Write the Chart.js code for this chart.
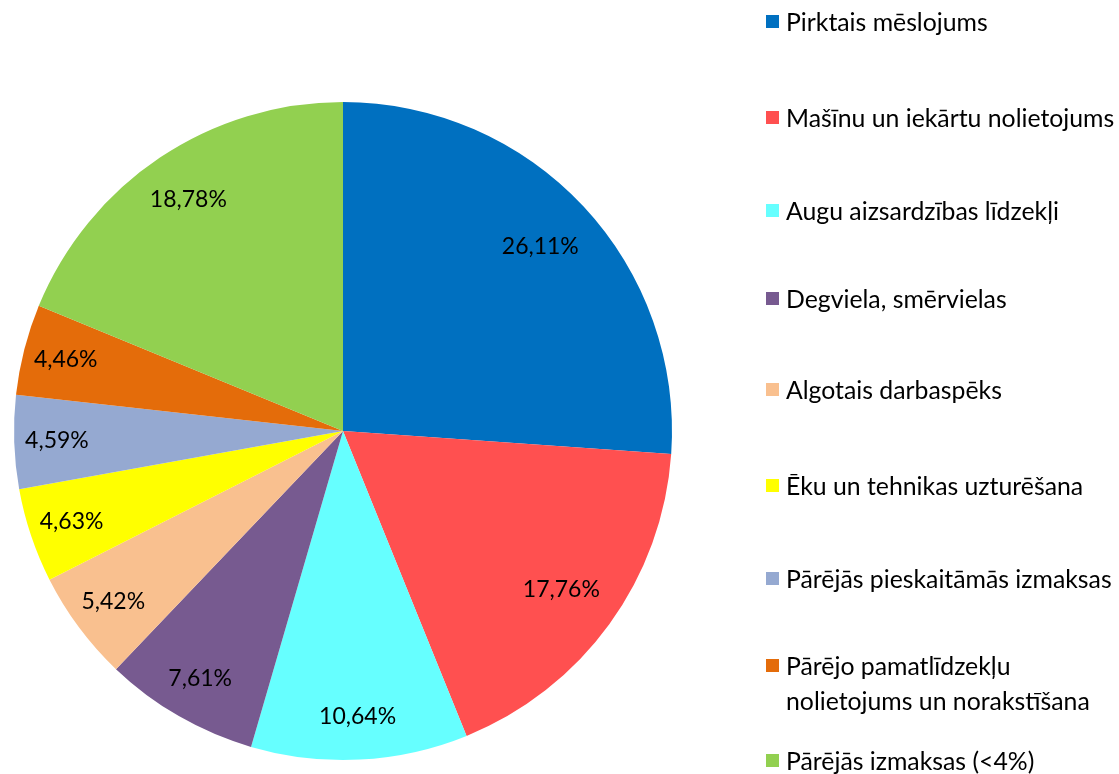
<!DOCTYPE html>
<html>
<head>
<meta charset="utf-8">
<script src="https://cdn.jsdelivr.net/npm/chart.js@4/dist/chart.umd.min.js"></script>
<style>
  html, body { margin: 0; padding: 0; background: #fff; }
  #wrap { position: relative; width: 1119px; height: 774px; overflow: hidden; }
  #c { position: absolute; left: 0; top: 0; }
  .lg { position: absolute; left: 766px; font-family: Lato, "Open Sans", sans-serif; font-size: 24.8px; line-height: 35px; color: #000; white-space: nowrap; }
  .lg .sw { position: absolute; left: 0; top: 11px; width: 13px; height: 13px; }
  .lg .tx { position: absolute; left: 20px; top: 0; }
</style>
</head>
<body>
<div id="wrap">
  <canvas id="c" width="1119" height="774"></canvas>
</div>
<script>
const categories = [
  "Pirktais mēslojums",
  "Mašīnu un iekārtu nolietojums",
  "Augu aizsardzības līdzekļi",
  "Degviela, smērvielas",
  "Algotais darbaspēks",
  "Ēku un tehnikas uzturēšana",
  "Pārējās pieskaitāmās izmaksas",
  "Pārējo pamatlīdzekļu\nnolietojums un norakstīšana",
  "Pārējās izmaksas (<4%)"
];
const values = [26.11, 17.76, 10.64, 7.61, 5.42, 4.63, 4.59, 4.46, 18.78];
const valueLabels = ["26,11%", "17,76%", "10,64%", "7,61%", "5,42%", "4,63%", "4,59%", "4,46%", "18,78%"];
const colors = ["#0070C0", "#FF5050", "#66FFFF", "#775A90", "#F9C08F", "#FFFF00", "#95A9D1", "#E46C0A", "#92D050"];

// legend layout (vertical centers of first text line)
const legendCenters = [21, 117, 210, 298, 389, 485, 578, 665, 760];

const wrap = document.getElementById('wrap');
categories.forEach((name, i) => {
  const d = document.createElement('div');
  d.className = 'lg';
  d.style.top = (legendCenters[i] - 17.5) + 'px';
  const sw = document.createElement('div');
  sw.className = 'sw';
  sw.style.background = colors[i];
  const tx = document.createElement('div');
  tx.className = 'tx';
  tx.innerHTML = name.split('\n').map(s => s.replace(/</g, '&lt;')).join('<br>');
  d.appendChild(sw); d.appendChild(tx);
  wrap.appendChild(d);
});

const labelPlugin = {
  id: 'sliceLabels',
  afterDatasetsDraw(chart) {
    const ctx = chart.ctx;
    const meta = chart.getDatasetMeta(0);
    ctx.save();
    ctx.font = '23px Lato, "Open Sans", sans-serif';
    ctx.fillStyle = '#000';
    ctx.textAlign = 'center';
    ctx.textBaseline = 'middle';
    meta.data.forEach((arc, i) => {
      const p = arc.getProps(['x', 'y', 'startAngle', 'endAngle', 'outerRadius'], true);
      const mid = (p.startAngle + p.endAngle) / 2;
      const f = i < 2 ? 0.82 : (i === 8 ? 0.845 : 0.87);
      const r = p.outerRadius * f;
      ctx.fillText(valueLabels[i], p.x + Math.cos(mid) * r, p.y + Math.sin(mid) * r);
    });
    ctx.restore();
  }
};

new Chart(document.getElementById('c'), {
  type: 'pie',
  data: {
    labels: categories,
    datasets: [{
      data: values,
      backgroundColor: colors,
      borderWidth: 0
    }]
  },
  options: {
    responsive: false,
    animation: false,
    layout: { padding: { left: 14, top: 102, right: 447, bottom: 14 } },
    plugins: {
      legend: { display: false },
      tooltip: { enabled: false }
    }
  },
  plugins: [labelPlugin]
});
</script>
</body>
</html>
